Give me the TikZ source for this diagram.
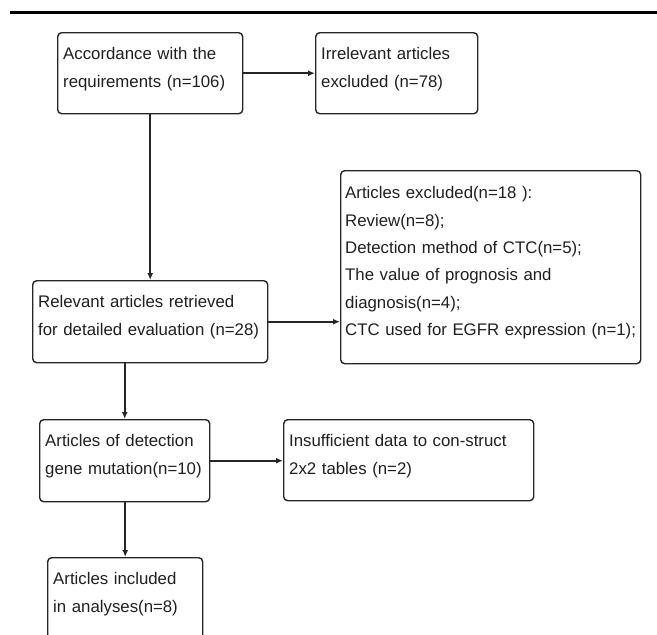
\documentclass[tikz,border=0pt]{standalone}
\usepackage{fontspec}
\setmainfont{Liberation Sans}
\usetikzlibrary{arrows.meta,positioning,calc}

\begin{document}
\begin{tikzpicture}[x=1pt,y=-1pt,
  box/.style={draw=black!85,line width=1.4pt,rounded corners=4pt,
    anchor=north west,align=left,inner xsep=5.5pt,inner ysep=0pt,
    font=\fontsize{16.8}{28}\selectfont,text=black!88,
    execute at end node={\rule[-12pt]{0pt}{1pt}}},
  arr/.style={draw=black!85,line width=1.8pt,
    -{Latex[length=7pt,width=6pt]}}]
  \useasboundingbox(0,0)rectangle(657,635);
  \clip(0,0)rectangle(657,635);
  \draw[line width=3pt](10,12)--(657,12);
  \node[box,text width=174pt,minimum height=81pt](acc)at(57,32)
  {Accordance with the\\requirements (n=106)};
  \node[box,text width=151pt,minimum height=81pt](irr)at(315,32)
  {Irrelevant articles\\excluded (n=78)};
  \node[box,text width=291pt,inner xsep=4.5pt,minimum height=193pt,
    font=\fontsize{16.8}{27.4}\selectfont](exc)at(340,170)
  {Articles excluded(n=18 ):\\Review(n=8);\\Detection method of CTC(n=5);\\
   The value of prognosis and\\diagnosis(n=4);\\
   \mbox{CTC used for EGFR expression (n=1);}};
  \node[box,text width=224pt,minimum height=82pt](rel)at(32,280)
  {Relevant articles retrieved\\for detailed evaluation (n=28)};
  \node[box,text width=159pt,minimum height=82pt](det)at(39,419)
  {Articles of detection\\gene mutation(n=10)};
  \node[box,text width=239pt,minimum height=81pt](ins)at(283,419)
  {Insufficient data to con-struct\\2x2 tables (n=2)};
  \node[box,text width=144pt,minimum height=81pt](inc)at(47,557)
  {Articles included\\in analyses(n=8)};
  \draw[arr](acc.east)--(irr.west);
  \draw[arr](acc.south)--(rel.north);
  \draw[arr](rel.east)--(rel.east-|exc.west);
  \draw[arr](rel.south-|det.north)--(det.north);
  \draw[arr](det.east)--(det.east-|ins.west);
  \draw[arr](det.south-|inc.north)--(inc.north);
\end{tikzpicture}
\end{document}
